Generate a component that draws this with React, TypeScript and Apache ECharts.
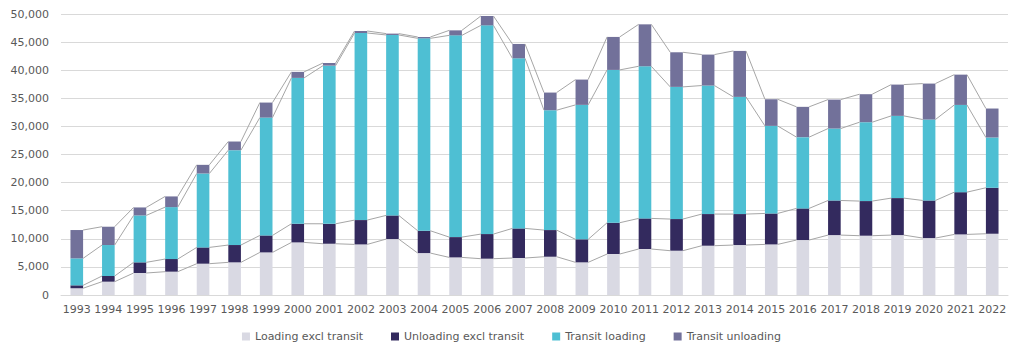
import React, { useEffect, useRef } from "react";
import * as echarts from "echarts";

const years = [
  "1993","1994","1995","1996","1997","1998","1999","2000","2001","2002",
  "2003","2004","2005","2006","2007","2008","2009","2010","2011","2012",
  "2013","2014","2015","2016","2017","2018","2019","2020","2021","2022",
];

const loadingExclTransit = [
  1200, 2370, 3910, 4150, 5570, 5810, 7580, 9360, 9120, 9000,
  9950, 7460, 6690, 6460, 6580, 6810, 5810, 7290, 8180, 7880,
  8770, 8890, 9000, 9780, 10660, 10550, 10660, 10130, 10780, 10900,
];

const unloadingExclTransit = [
  520, 1010, 1900, 2250, 2900, 3080, 3020, 3320, 3550, 4330,
  4210, 3970, 3610, 4380, 5270, 4740, 4090, 5570, 5450, 5630,
  5630, 5510, 5510, 5630, 6160, 6160, 6580, 6690, 7520, 8180,
];

const transitLoading = [
  4800, 5510, 8350, 9240, 13150, 16880, 20970, 25950, 28140, 33290,
  32110, 34240, 35900, 37140, 30270, 21330, 23930, 27190, 27070, 23520,
  22870, 20850, 15580, 12680, 12800, 14040, 14630, 14400, 15520, 8950,
];

const transitUnloading = [
  5040, 3260, 1420, 1900, 1540, 1540, 2670, 1070, 470, 360,
  240, 240, 890, 1660, 2550, 3140, 4500, 5870, 7460, 6160,
  5510, 8180, 4740, 5390, 5150, 4980, 5570, 6400, 5390, 5150,
];

const yTicks = { min: 0, max: 50000, interval: 5000 };

const seriesNames = [
  "Loading excl transit",
  "Unloading excl transit",
  "Transit loading",
  "Transit unloading",
];
const seriesColors = ["#D9D9E3", "#332A5E", "#4EBFD3", "#72719A"];

export default function App() {
  const ref = useRef<HTMLDivElement>(null);

  useEffect(() => {
    if (!ref.current) return;
    const chart = echarts.init(ref.current, null, { renderer: "svg" });
    const all = [loadingExclTransit, unloadingExclTransit, transitLoading, transitUnloading];

    // cumulative tops per year
    const tops = years.map((_, i) => {
      let s = 0;
      return all.map((arr) => (s += arr[i]));
    });
    const lineData = years.slice(0, -1).map((_, i) => [i, ...tops[i], ...tops[i + 1]]);

    const barWidthRatio = 0.4;

    chart.setOption({
      animation: false,
      textStyle: { fontFamily: "DejaVu Sans" },
      grid: { left: 61, right: 15, top: 14, bottom: 61 },
      legend: {
        data: seriesNames,
        bottom: 9,
        left: "center",
        itemWidth: 8,
        itemHeight: 8,
        itemGap: 28,
        icon: "rect",
        textStyle: { fontSize: 11, color: "#595959", fontFamily: "DejaVu Sans" },
      },
      xAxis: {
        type: "category",
        data: years,
        axisLine: { lineStyle: { color: "#D9D9D9" } },
        axisTick: { show: false },
        axisLabel: { fontSize: 11, color: "#595959", margin: 9, interval: 0 },
      },
      yAxis: {
        type: "value",
        min: yTicks.min,
        max: yTicks.max,
        interval: yTicks.interval,
        axisLine: { show: false },
        axisTick: { show: false },
        splitLine: { lineStyle: { color: "#D9D9D9", width: 1 } },
        axisLabel: {
          fontSize: 11,
          color: "#595959",
          margin: 12,
          formatter: (v: number) => v.toLocaleString("en-US"),
        },
      },
      series: [
        ...all.map((arr, k) => ({
          name: seriesNames[k],
          type: "bar",
          stack: "total",
          data: arr,
          barWidth: "40%",
          itemStyle: { color: seriesColors[k] },
        })),
        {
          type: "custom",
          name: "series lines",
          silent: true,
          z: 5,
          data: lineData,
          renderItem: (params: any, api: any) => {
            const i = api.value(0);
            const half = (api.size([1, 0])[0] * barWidthRatio) / 2;
            const children: any[] = [];
            for (let k = 0; k < 4; k++) {
              const a = api.coord([i, api.value(1 + k)]);
              const b = api.coord([i + 1, api.value(5 + k)]);
              children.push({
                type: "line",
                shape: { x1: a[0] + half, y1: a[1], x2: b[0] - half, y2: b[1] },
                style: { stroke: "#A6A6A6", lineWidth: 1 },
              });
            }
            return { type: "group", children };
          },
        },
      ],
    });
    return () => chart.dispose();
  }, []);

  return (
    <div
      ref={ref}
      style={{ position: "fixed", left: 0, top: 0, width: 1023, height: 356, background: "#fff" }}
    />
  );
}
